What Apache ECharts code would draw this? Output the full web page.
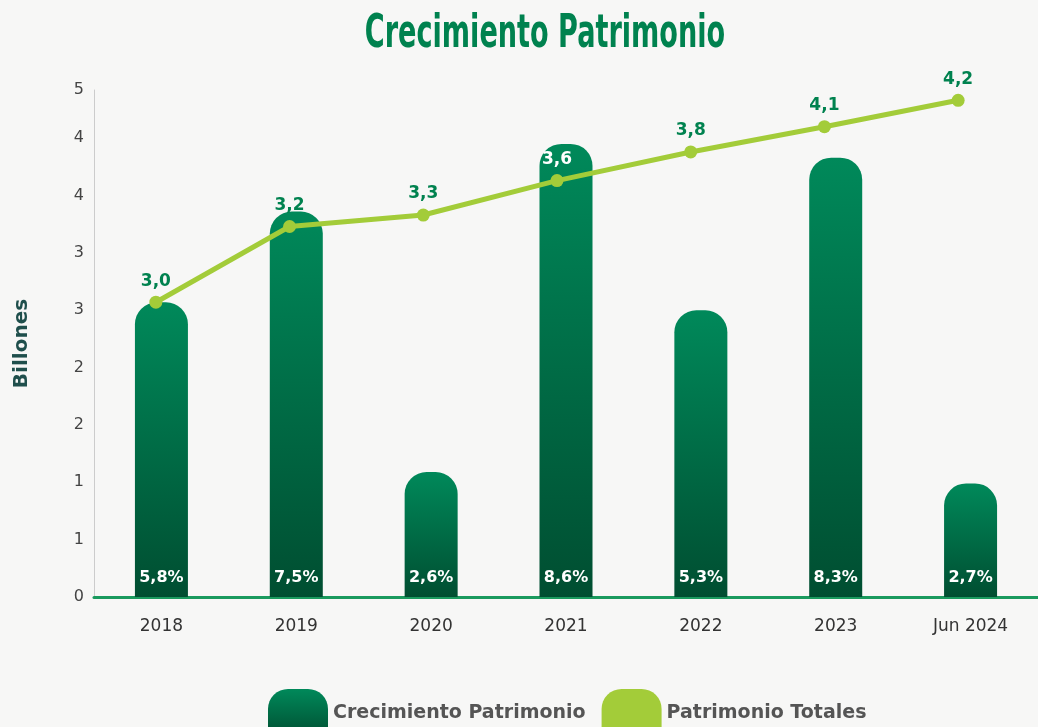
<!DOCTYPE html>
<html>
<head>
<meta charset="utf-8">
<title>Crecimiento Patrimonio</title>
<script src="https://cdn.jsdelivr.net/npm/echarts@6/dist/echarts.min.js"></script>
<style>
  html, body { margin: 0; padding: 0; background: #f7f7f6; }
  #chart { width: 1038px; height: 727px; }
</style>
</head>
<body>
<div id="chart"></div>
<script>
// values (billones); labels are the printed texts
const categories = ['2018', '2019', '2020', '2021', '2022', '2023', 'Jun 2024'];
const barValues = [2.57, 3.36, 1.09, 3.95, 2.50, 3.83, 0.99];
const barLabels = ['5,8%', '7,5%', '2,6%', '8,6%', '5,3%', '8,3%', '2,7%'];
const lineValues = [2.57, 3.23, 3.33, 3.63, 3.88, 4.10, 4.33];
const lineLabels = ['3,0', '3,2', '3,3', '3,6', '3,8', '4,1', '4,2'];
const yTickLabels = ['0', '1', '1', '2', '2', '3', '3', '4', '4', '5'];

const GREEN = '#00824f';
const LIME = '#a3cc39';
const FONT = '"DejaVu Sans", sans-serif';
const legendIcon = 'path://M0,20 A20,20 0 0 1 20,0 L40,0 A20,20 0 0 1 60,20 L60,48 L0,48 Z';

const barGradient = new echarts.graphic.LinearGradient(0, 0, 0, 1, [
  { offset: 0, color: '#00895a' },
  { offset: 1, color: '#004e31' }
]);

const chart = echarts.init(document.getElementById('chart'));

// the line sits on its own (hidden) grid: its points are slightly off the bar centres
const yRange = { type: 'value', min: 0, max: 4.42, interval: 0.5 };

const option = {
  backgroundColor: '#f7f7f6',
  animation: false,
  graphic: [
    {
      type: 'text',
      x: 545,
      y: 12,
      scaleX: 0.655,
      style: {
        text: 'Crecimiento Patrimonio',
        fill: GREEN,
        font: 'bold 46px "Liberation Sans Narrow", "DejaVu Sans Condensed", sans-serif',
        textAlign: 'center',
        textVerticalAlign: 'top'
      }
    }
  ],
  grid: [
    { left: 94, right: 0, top: 90, bottom: 130, containLabel: false, outerBoundsMode: 'none' },
    { left: 89, right: 13, top: 90, bottom: 130, containLabel: false, outerBoundsMode: 'none' }
  ],
  legend: {
    left: 263,
    top: 684,
    itemWidth: 60,
    itemHeight: 48,
    itemGap: 16,
    textStyle: { color: '#555', fontSize: 19, fontWeight: 'bold', fontFamily: FONT },
    data: [
      { name: 'Crecimiento Patrimonio', icon: legendIcon },
      { name: 'Patrimonio Totales', icon: legendIcon }
    ]
  },
  xAxis: [
    {
      type: 'category',
      data: categories,
      gridIndex: 0,
      axisLine: { lineStyle: { color: '#1a9a5e', width: 3 } },
      axisTick: { show: false },
      axisLabel: { color: '#333', fontSize: 17, margin: 21, fontFamily: FONT, fontWeight: 'normal' }
    },
    { type: 'category', data: categories, gridIndex: 1, show: false }
  ],
  yAxis: [
    Object.assign({}, yRange, {
      gridIndex: 0,
      name: 'Billones',
      nameLocation: 'middle',
      nameRotate: 90,
      nameGap: 62,
      nameTextStyle: { color: '#1f4f4c', fontSize: 20, fontWeight: 'bold', fontFamily: FONT },
      axisLine: { show: true, lineStyle: { color: '#cccccc', width: 1 } },
      axisTick: { show: false },
      splitLine: { show: false },
      axisLabel: {
        color: '#444',
        fontSize: 16,
        margin: 10,
        fontFamily: FONT,
        formatter: v => yTickLabels[Math.round(v / 0.5)]
      }
    }),
    Object.assign({}, yRange, { gridIndex: 1, show: false, splitLine: { show: false } })
  ],
  series: [
    {
      name: 'Crecimiento Patrimonio',
      type: 'bar',
      xAxisIndex: 0,
      yAxisIndex: 0,
      data: barValues,
      barWidth: 53,
      itemStyle: { color: barGradient, borderRadius: [22, 22, 0, 0] },
      label: {
        show: true,
        position: 'insideBottom',
        distance: 11,
        color: '#fff',
        fontSize: 16,
        fontWeight: 'bold',
        fontFamily: FONT,
        formatter: p => barLabels[p.dataIndex]
      }
    },
    {
      name: 'Patrimonio Totales',
      type: 'line',
      xAxisIndex: 1,
      yAxisIndex: 1,
      data: lineValues.map((v, i) => ({
        value: v,
        label: i === 3 ? { color: '#fff' } : undefined
      })),
      symbol: 'circle',
      symbolSize: 13,
      lineStyle: { color: LIME, width: 5 },
      itemStyle: { color: LIME },
      label: {
        show: true,
        position: 'top',
        distance: 6,
        color: GREEN,
        fontSize: 17,
        fontWeight: 'bold',
        fontFamily: FONT,
        formatter: p => lineLabels[p.dataIndex]
      }
    }
  ]
};

chart.setOption(option);
</script>
</body>
</html>
